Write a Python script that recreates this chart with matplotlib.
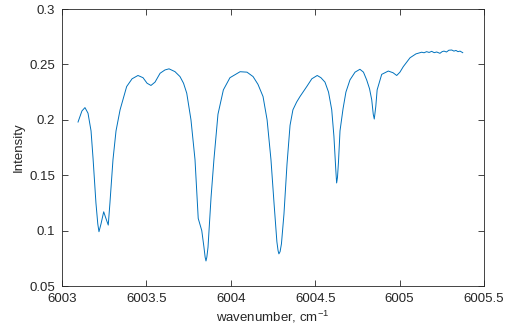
import matplotlib
matplotlib.use('Agg')
import matplotlib.pyplot as plt
import numpy as np

# spectrum
wavenumber = [
  6003.095, 6003.118, 6003.136, 6003.154, 6003.172, 6003.184, 6003.201, 6003.212, 6003.219,
  6003.231, 6003.247, 6003.258, 6003.274, 6003.284, 6003.302, 6003.320, 6003.344,
  6003.383, 6003.415, 6003.450, 6003.480, 6003.504, 6003.527, 6003.551, 6003.581,
  6003.610, 6003.634, 6003.669, 6003.699, 6003.720, 6003.739, 6003.764, 6003.788, 6003.807,
  6003.828, 6003.841, 6003.848, 6003.853, 6003.858, 6003.865, 6003.883, 6003.900, 6003.924, 6003.956,
  6003.995, 6004.055, 6004.096, 6004.132, 6004.161, 6004.191, 6004.215, 6004.238,
  6004.256, 6004.273, 6004.280, 6004.285, 6004.292, 6004.300, 6004.315, 6004.333, 6004.351, 6004.368,
  6004.390, 6004.410, 6004.450, 6004.480, 6004.512, 6004.534, 6004.558, 6004.579, 6004.598,
  6004.611, 6004.622, 6004.627, 6004.632, 6004.638, 6004.647, 6004.665, 6004.682, 6004.706, 6004.736,
  6004.765, 6004.786, 6004.805, 6004.822, 6004.835, 6004.844, 6004.850, 6004.859,
  6004.867, 6004.894, 6004.933, 6004.961, 6004.983, 6005.002, 6005.022, 6005.062,
  6005.097, 6005.131, 6005.145, 6005.160, 6005.175, 6005.190, 6005.205, 6005.220,
  6005.239, 6005.252, 6005.263, 6005.278, 6005.292, 6005.309, 6005.322, 6005.334,
  6005.346, 6005.358, 6005.374,
]
intensity = [
  0.198, 0.208, 0.211, 0.206, 0.190, 0.165, 0.125, 0.106, 0.099,
  0.106, 0.117, 0.112, 0.105, 0.125, 0.164, 0.190, 0.209,
  0.230, 0.237, 0.240, 0.238, 0.233, 0.231, 0.234, 0.242,
  0.245, 0.246, 0.2435, 0.239, 0.233, 0.224, 0.200, 0.164, 0.111,
  0.100, 0.085, 0.076, 0.0726, 0.076, 0.085, 0.130, 0.164, 0.205, 0.227,
  0.238, 0.2434, 0.243, 0.239, 0.232, 0.221, 0.200, 0.164,
  0.125, 0.090, 0.082, 0.079, 0.081, 0.088, 0.115, 0.160, 0.195, 0.209,
  0.216, 0.221, 0.230, 0.237, 0.240, 0.238, 0.234, 0.225, 0.209,
  0.185, 0.155, 0.143, 0.148, 0.162, 0.190, 0.210, 0.225, 0.236, 0.243,
  0.2456, 0.243, 0.236, 0.228, 0.218, 0.205, 0.2007, 0.212,
  0.227, 0.241, 0.244, 0.2425, 0.240, 0.243, 0.248, 0.256,
  0.2595, 0.261, 0.2605, 0.2615, 0.2608, 0.2618, 0.2606, 0.2612,
  0.2600, 0.2615, 0.2620, 0.2612, 0.2628, 0.2630, 0.2620, 0.2626,
  0.2615, 0.2620, 0.2606,
]

xticks = [6003, 6003.5, 6004, 6004.5, 6005, 6005.5]
xticklabels = ['6003', '6003.5', '6004', '6004.5', '6005', '6005.5']
yticks = [0.05, 0.1, 0.15, 0.2, 0.25, 0.3]
yticklabels = ['0.05', '0.1', '0.15', '0.2', '0.25', '0.3']

plt.rcParams['font.family'] = ['Liberation Sans', 'DejaVu Sans']
plt.rcParams['font.size'] = 9.5
plt.rcParams['mathtext.fontset'] = 'custom'
plt.rcParams['mathtext.rm'] = 'Liberation Sans'
plt.rcParams['mathtext.it'] = 'Liberation Sans'

fig = plt.figure(figsize=(5.07, 3.36), dpi=100)
ax = fig.add_axes([0.1223, 0.1488, 0.8323, 0.8244])

ax.plot(wavenumber, intensity, color='#0072BD', linewidth=0.7)

ax.set_xlim(6003, 6005.5)
ax.set_ylim(0.05, 0.3)
ax.set_xticks(xticks)
ax.set_xticklabels(xticklabels)
ax.set_yticks(yticks)
ax.set_yticklabels(yticklabels)

gray = '#262626'
for s in ax.spines.values():
  s.set_color(gray)
  s.set_linewidth(0.6)
ax.tick_params(direction='in', top=True, right=True, length=4, width=0.6,
               colors=gray, labelcolor=gray, pad=5)

ax.set_xlabel('wavenumber, cm$^{\\mathrm{-1}}$', color=gray, labelpad=3)
ax.set_ylabel('Intensity', color=gray, labelpad=3)

plt.savefig('out.png', dpi=100)
